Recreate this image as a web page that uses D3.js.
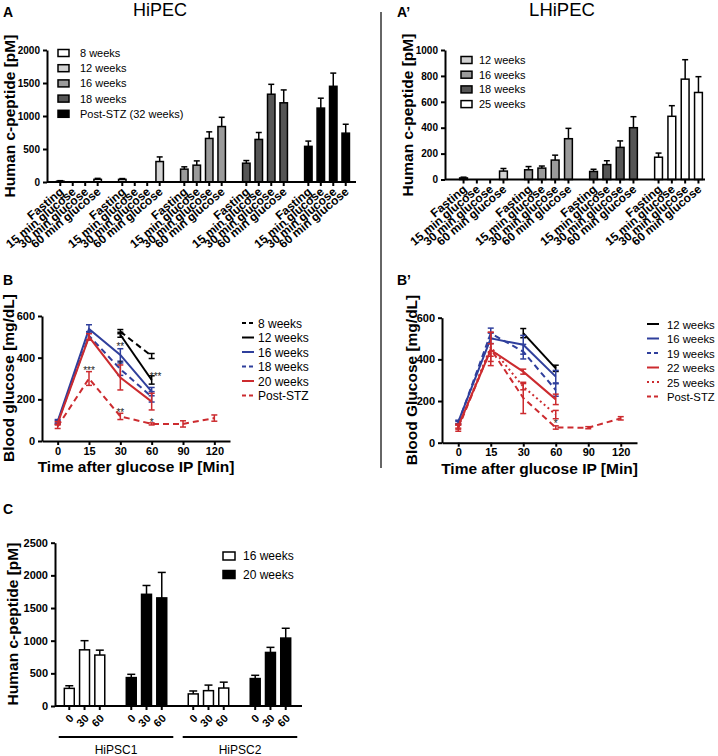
<!DOCTYPE html>
<html><head><meta charset="utf-8">
<script src="https://cdn.jsdelivr.net/npm/d3@7"></script>
<style>
body{margin:0;background:#fff;}
svg{display:block;}
</style></head><body>
<svg id="c" width="718" height="756"></svg>
<script>
// ================= DATA =================
// Panel A (HiPEC) – human c-peptide [pM]
const aCategories = ["Fasting","15 min glucose","30 min glucose","60 min glucose"];
const aSeries = ["8 weeks","12 weeks","16 weeks","18 weeks","Post-STZ (32 weeks)"];
const aWeek8    = [12, 0, 0, 40];     const aWeek8Err  = [8, 0, 0, 15];
const aWeek12   = [40, 0, 0, 310];    const aWeek12Err = [12, 0, 0, 70];
const aWeek16   = [195, 255, 660, 840];   const aWeek16Err = [35, 65, 100, 140];
const aWeek18   = [285, 645, 1330, 1200]; const aWeek18Err = [40, 105, 150, 195];
const aPostSTZ  = [540, 1120, 1450, 740]; const aPostSTZErr = [80, 150, 200, 135];
const aTicks = [0, 500, 1000, 1500, 2000];

// Panel A' (LHiPEC)
const apCategories = ["Fasting","15 min glucose","30 min glucose","60 min glucose"];
const apSeries = ["12 weeks","16 weeks","18 weeks","25 weeks"];
const apWeek12 = [12, 0, 0, 65];     const apWeek12Err = [6, 0, 0, 20];
const apWeek16 = [75, 88, 150, 315]; const apWeek16Err = [25, 16, 38, 80];
const apWeek18 = [62, 115, 248, 400]; const apWeek18Err = [17, 30, 50, 85];
const apWeek25 = [172, 488, 775, 672]; const apWeek25Err = [32, 82, 150, 122];
const apTicks = [0, 200, 400, 600, 800, 1000];

// Panel B (HiPEC) – blood glucose [mg/dL]
const bTimes = ["0","15","30","60","90","120"];
const bSeries = ["8 weeks","12 weeks","16 weeks","18 weeks","20 weeks","Post-STZ"];
const bWeek8   = [null, null, 525, 408];   const bWeek8Err  = [0, 0, 10, 12];
const bWeek12  = [null, null, 510, 293];   const bWeek12Err = [0, 0, 12, 20];
const bWeek16  = [95, 538, 413, 237];      const bWeek16Err = [8, 20, 30, 20];
const bWeek18  = [90, 505, 345, 212];      const bWeek18Err = [8, 20, 30, 25];
const bWeek20  = [85, 500, 305, 189];      const bWeek20Err = [8, 15, 60, 40];
const bPostSTZ = [70, 300, 118, 82, 82, 110]; const bPostSTZErr = [10, 33, 15, 5, 15, 15];
const bStars = [
  {t:"15", v:352, s:"***"}, {t:"30", v:466, s:"**"}, {t:"30", v:378, s:"*"},
  {t:"60", v:322, s:"***"}, {t:"30", v:150, s:"**"}, {t:"60", v:100, s:"*"}
];
const glucoseTicks = [0, 200, 400, 600];

// Panel B' (LHiPEC)
const bpSeries = ["12 weeks","16 weeks","19 weeks","22 weeks","25 weeks","Post-STZ"];
const bpWeek12  = [null, null, 526, 357];   const bpWeek12Err = [0, 0, 22, 15];
const bpWeek16  = [100, 501, 470, 317];     const bpWeek16Err = [8, 25, 45, 30];
const bpWeek19  = [95, 525, 437, 253];      const bpWeek19Err = [8, 25, 35, 30];
const bpWeek22  = [80, 445, 341, 208];      const bpWeek22Err = [10, 30, 12, 25];
const bpWeek25  = [75, 460, 269, 135];      const bpWeek25Err = [10, 70, 15, 20];
const bpPostSTZ = [70, 450, 215, 73, 72, 117]; const bpPostSTZErr = [15, 80, 75, 8, 5, 8];
const bpStars = [{t:"60", v:105, s:"*"}];

// Panel C – human c-peptide [pM]
const cLines = ["HiPSC1","HiPSC2"];
const cSeries = ["16 weeks","20 weeks"];
const cTimes = ["0","30","60"];
const cHiPSC1Week16 = [270, 860, 780];   const cHiPSC1Week16Err = [40, 140, 75];
const cHiPSC1Week20 = [435, 1710, 1655]; const cHiPSC1Week20Err = [50, 135, 390];
const cHiPSC2Week16 = [185, 235, 275];   const cHiPSC2Week16Err = [45, 85, 90];
const cHiPSC2Week20 = [420, 820, 1040];  const cHiPSC2Week20Err = [50, 78, 150];
const cTicks = [0, 500, 1000, 1500, 2000, 2500];

// ================= DRAWING =================
const FONT = "'Liberation Sans', Arial, Helvetica, sans-serif";
const svg = d3.select("#c").style("font-family", FONT);
const BLUE = "#2f3f9c", RED = "#cc2b2f";
const TITLE = 15.5;

function styleAxis(ax, size){
  ax.select(".domain").attr("stroke","#000").attr("stroke-width",2);
  ax.selectAll(".tick line").attr("stroke","#000").attr("stroke-width",2);
  ax.selectAll(".tick text").attr("font-family",FONT).attr("font-size",size)
    .attr("font-weight","bold").attr("fill","#000");
}
function text(x, y, s, opts={}){
  return svg.append("text").attr("x",x).attr("y",y).text(s)
    .attr("font-size",opts.size||12).attr("font-weight",opts.weight||"normal")
    .attr("text-anchor",opts.anchor||"start").attr("fill","#000");
}
function vtext(x, y, s, size){
  svg.append("text").attr("transform",`translate(${x},${y}) rotate(-90)`)
    .attr("text-anchor","middle").attr("font-size",size).attr("font-weight","bold").text(s);
}

function barPanel(cfg){
  const g = svg.append("g");
  const y = d3.scaleLinear().domain([0, cfg.ymax]).range([cfg.yBottom, cfg.yTop]);
  const outer = d3.scaleBand().domain(cfg.groups).range([cfg.bx0, cfg.bx1]).paddingInner(cfg.padOuter).paddingOuter(0);
  const inner = d3.scaleBand().domain(cfg.cats).range([0, outer.bandwidth()]).padding(cfg.padInner);
  const data = [];
  cfg.groups.forEach((grp, gi) => cfg.cats.forEach((c, ci) => data.push({
    grp, cat:c, v:cfg.values[gi][ci], e:cfg.errors[gi][ci], fill:cfg.fills[gi],
    label: cfg.labels ? cfg.labels[ci] : c
  })));
  const cx = d => outer(d.grp) + inner(d.cat) + inner.bandwidth()/2;
  const w = inner.bandwidth();
  const nz = data.filter(d => d.v > 0);
  g.selectAll(".eb").data(nz).join("line")
    .attr("x1",cx).attr("x2",cx).attr("y1",d=>y(d.v)).attr("y2",d=>y(d.v+d.e))
    .attr("stroke","#000").attr("stroke-width",1.5);
  g.selectAll(".ec").data(nz).join("line")
    .attr("x1",d=>cx(d)-cfg.cap).attr("x2",d=>cx(d)+cfg.cap).attr("y1",d=>y(d.v+d.e)).attr("y2",d=>y(d.v+d.e))
    .attr("stroke","#000").attr("stroke-width",1.5);
  g.selectAll(".bar").data(nz).join("rect")
    .attr("x",d=>cx(d)-w/2+0.75).attr("width",w-1.5)
    .attr("y",d=>y(d.v)).attr("height",d=>cfg.yBottom - y(d.v))
    .attr("fill",d=>d.fill).attr("stroke","#000").attr("stroke-width",1.5);
  const ay = g.append("g").attr("transform",`translate(${cfg.axisX0},0)`)
    .call(d3.axisLeft(y).tickValues(cfg.ticks).tickFormat(d3.format("d")).tickSize(4).tickPadding(3).tickSizeOuter(0));
  styleAxis(ay, cfg.tickSize);
  g.append("line").attr("x1",cfg.axisX0).attr("x2",cfg.axisX1).attr("y1",cfg.yBottom).attr("y2",cfg.yBottom)
    .attr("stroke","#000").attr("stroke-width",2);
  g.selectAll(".xt").data(data).join("line")
    .attr("x1",cx).attr("x2",cx).attr("y1",cfg.yBottom).attr("y2",cfg.yBottom+4)
    .attr("stroke","#000").attr("stroke-width",2);
  g.selectAll(".xl").data(data).join("text")
    .attr("transform",d=>`translate(${cx(d)+cfg.lblDx},${cfg.yBottom+cfg.lblDy}) rotate(${cfg.angle})`)
    .attr("text-anchor","end").attr("font-size",cfg.lblSize).attr("font-weight","bold").text(d=>d.label);
  return {outer, inner, y};
}

function legendBoxes(x, y0, dy, names, fills, size, tx, bw, bh){
  names.forEach((n,i)=>{
    const yy = y0 + i*dy;
    svg.append("rect").attr("x",x).attr("y",yy-bh/2).attr("width",bw).attr("height",bh)
      .attr("fill",fills[i]).attr("stroke","#000").attr("stroke-width",1.5);
    text(tx, yy+size*0.36, n, {size});
  });
}

// ---------- Panel A ----------
text(3, 17, "A", {size:14, weight:"bold"});
text(160, 16, "HiPEC", {size:18, anchor:"middle"});
const aFills = ["#ffffff","#d2d2d2","#9a9a9a","#555555","#000000"];
barPanel({groups:aSeries, cats:aCategories,
  values:[aWeek8,aWeek12,aWeek16,aWeek18,aPostSTZ],
  errors:[aWeek8Err,aWeek12Err,aWeek16Err,aWeek18Err,aPostSTZErr],
  fills:aFills, ymax:2000, yBottom:182, yTop:50, bx0:52.3, bx1:353.7, padOuter:0.14, padInner:0.28,
  axisX0:47, axisX1:356, ticks:aTicks, tickSize:10, cap:3, lblDx:4, lblDy:11, angle:-40, lblSize:12});
vtext(15, 116, "Human c-peptide [pM]", TITLE);
legendBoxes(58, 53, 15.2, aSeries, aFills, 11, 80, 11, 7);

// separator
svg.append("line").attr("x1",381).attr("x2",381).attr("y1",12).attr("y2",468).attr("stroke","#333").attr("stroke-width",1.5);

// ---------- Panel A' ----------
text(397, 17, "A\u2019", {size:14, weight:"bold"});
text(562, 16, "LHiPEC", {size:18.5, anchor:"middle"});
const apFills = ["#d2d2d2","#9a9a9a","#555555","#ffffff"];
barPanel({groups:apSeries, cats:apCategories,
  values:[apWeek12,apWeek16,apWeek18,apWeek25],
  errors:[apWeek12Err,apWeek16Err,apWeek18Err,apWeek25Err],
  fills:apFills, ymax:1000, yBottom:179.5, yTop:50, bx0:454.9, bx1:707.1, padOuter:0.12, padInner:0.3,
  axisX0:445, axisX1:705, ticks:apTicks, tickSize:10, cap:3, lblDx:4, lblDy:11, angle:-40, lblSize:12});
vtext(413, 115, "Human c-peptide [pM]", TITLE);
legendBoxes(461, 60, 14.7, apSeries, apFills, 11, 479, 11, 7);

// ---------- Line panels ----------
function linePanel(cfg){
  const g = svg.append("g");
  const x = d3.scalePoint().domain(bTimes).range([cfg.x0, cfg.x1]).padding(0.5);
  const y = d3.scaleLinear().domain([0,600]).range([cfg.yBottom, cfg.yTop]);
  const ax = g.append("g").attr("transform",`translate(0,${cfg.yBottom})`)
    .call(d3.axisBottom(x).tickSize(4).tickPadding(2).tickSizeOuter(0));
  styleAxis(ax, 11);
  const ay = g.append("g").attr("transform",`translate(${cfg.x0},0)`)
    .call(d3.axisLeft(y).tickValues(glucoseTicks).tickSize(4).tickPadding(3).tickSizeOuter(0));
  styleAxis(ay, 11);
  cfg.series.forEach(s => {
    const pts = s.values.map((v,i)=>({t:bTimes[i], v, e:s.err[i]})).filter(d=>d.v!=null);
    g.append("path").datum(pts)
      .attr("d", d3.line().x(d=>x(d.t)).y(d=>y(d.v)))
      .attr("fill","none").attr("stroke",s.color).attr("stroke-width",2)
      .attr("stroke-dasharray", s.dash || null);
    const eg = g.append("g").attr("stroke",s.color).attr("stroke-width",1.5);
    eg.selectAll(".v").data(pts).join("line")
      .attr("x1",d=>x(d.t)).attr("x2",d=>x(d.t)).attr("y1",d=>y(d.v-d.e)).attr("y2",d=>y(d.v+d.e));
    eg.selectAll(".t").data(pts).join("line")
      .attr("x1",d=>x(d.t)-3).attr("x2",d=>x(d.t)+3).attr("y1",d=>y(d.v+d.e)).attr("y2",d=>y(d.v+d.e));
    eg.selectAll(".b").data(pts).join("line")
      .attr("x1",d=>x(d.t)-3).attr("x2",d=>x(d.t)+3).attr("y1",d=>y(d.v-d.e)).attr("y2",d=>y(d.v-d.e));
  });
  (cfg.stars||[]).forEach(st => {
    g.append("text").attr("x",x(st.t)+(st.dx||0)).attr("y",y(st.v)+6).attr("text-anchor","middle")
      .attr("font-size",10).attr("fill","#222").text(st.s);
  });
  cfg.series.forEach((s,i)=>{
    const yy = cfg.legY + i*cfg.legDy;
    g.append("line").attr("x1",cfg.legX).attr("x2",cfg.legX+cfg.legW).attr("y1",yy).attr("y2",yy)
      .attr("stroke",s.color).attr("stroke-width",2).attr("stroke-dasharray", s.legDash || null);
    g.append("text").attr("x",cfg.legX+cfg.legTx).attr("y",yy+4.5).attr("font-size",cfg.legSize).text(s.name);
  });
  svg.append("text").attr("x",(cfg.x0+cfg.x1)/2).attr("y",cfg.yBottom+31).attr("text-anchor","middle")
    .attr("font-size",TITLE).attr("font-weight","bold").text("Time after glucose IP [Min]");
}

// ---------- Panel B ----------
text(3, 285, "B", {size:14, weight:"bold"});
linePanel({x0:42, x1:230, yBottom:441, yTop:316, legX:242, legW:12, legTx:16, legSize:12, legY:323, legDy:14.5,
  series:[
    {name:bSeries[0], values:bWeek8,   err:bWeek8Err,   color:"#000", dash:"6,4", legDash:"4,3"},
    {name:bSeries[1], values:bWeek12,  err:bWeek12Err,  color:"#000"},
    {name:bSeries[2], values:bWeek16,  err:bWeek16Err,  color:BLUE},
    {name:bSeries[3], values:bWeek18,  err:bWeek18Err,  color:BLUE, dash:"6,4", legDash:"4,3"},
    {name:bSeries[4], values:bWeek20,  err:bWeek20Err,  color:RED},
    {name:bSeries[5], values:bPostSTZ, err:bPostSTZErr, color:RED, dash:"6,4", legDash:"4,3"}
  ],
  stars: bStars.map(s => s.t==="60" && s.s==="***" ? Object.assign({dx:4}, s) : s)
});
vtext(14, 378, "Blood glucose [mg/dL]", TITLE);

// ---------- Panel B' ----------
text(397, 285, "B\u2019", {size:14, weight:"bold"});
linePanel({x0:442, x1:637, yBottom:442.7, yTop:317.7, legX:647, legW:12, legTx:20, legSize:11.3, legY:324, legDy:14.5,
  series:[
    {name:bpSeries[0], values:bpWeek12,  err:bpWeek12Err,  color:"#000"},
    {name:bpSeries[1], values:bpWeek16,  err:bpWeek16Err,  color:BLUE},
    {name:bpSeries[2], values:bpWeek19,  err:bpWeek19Err,  color:BLUE, dash:"6,4", legDash:"4,3"},
    {name:bpSeries[3], values:bpWeek22,  err:bpWeek22Err,  color:RED},
    {name:bpSeries[4], values:bpWeek25,  err:bpWeek25Err,  color:RED, dash:"2,3", legDash:"2,3"},
    {name:bpSeries[5], values:bpPostSTZ, err:bpPostSTZErr, color:RED, dash:"6,4", legDash:"4,3"}
  ],
  stars: bpStars
});
vtext(417, 380, "Blood Glucose [mg/dL]", TITLE);

// ---------- Panel C ----------
text(3, 514, "C", {size:14, weight:"bold"});
const cGroups = ["HiPSC1|16","HiPSC1|20","HiPSC2|16","HiPSC2|20"];
const cFills = ["#ffffff","#000000","#ffffff","#000000"];
const cPanel = barPanel({groups:cGroups, cats:cTimes.map(t=>"t"+t), labels:cTimes,
  values:[cHiPSC1Week16,cHiPSC1Week20,cHiPSC2Week16,cHiPSC2Week20],
  errors:[cHiPSC1Week16Err,cHiPSC1Week20Err,cHiPSC2Week16Err,cHiPSC2Week20Err],
  fills:cFills, ymax:2500, yBottom:706, yTop:542.7, bx0:59.75, bx1:295.25, padOuter:0.2, padInner:0.25,
  axisX0:55, axisX1:302, ticks:cTicks, tickSize:11, cap:4, lblDx:5, lblDy:13, angle:-45, lblSize:11});
vtext(18, 624, "Human c-peptide [pM]", TITLE);
cLines.forEach((ln,i)=>{
  const xa = cPanel.outer(cGroups[i*2]) - 1, xb = cPanel.outer(cGroups[i*2+1]) + cPanel.outer.bandwidth() + 2;
  svg.append("line").attr("x1",xa).attr("x2",xb).attr("y1",737).attr("y2",737).attr("stroke","#000").attr("stroke-width",2);
  text((xa+xb)/2, 754, ln, {size:12, anchor:"middle"});
});
legendBoxes(223, 556, 18.5, cSeries, ["#ffffff","#000000"], 12, 243, 12, 8);
</script>
</body></html>
